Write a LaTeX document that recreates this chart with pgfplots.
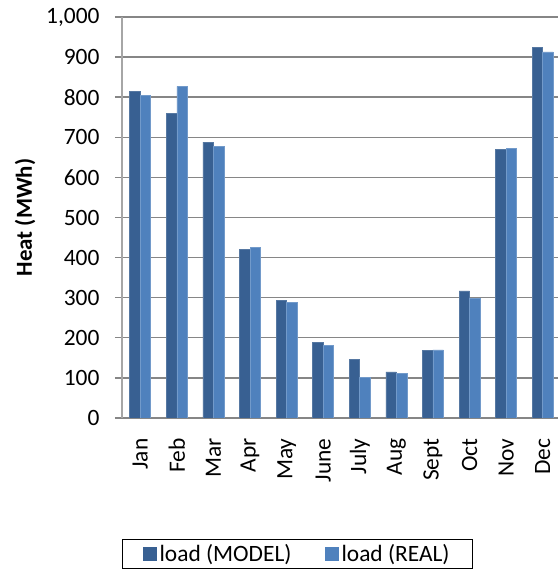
\documentclass[border=0pt]{standalone}
\usepackage{pgfplots}
\pgfplotsset{compat=1.18}
\usepackage{fontspec}
\setmainfont{Carlito}
\definecolor{model}{HTML}{386092}
\definecolor{real}{HTML}{4F81BD}
\definecolor{gridc}{HTML}{868686}
\definecolor{yaxc}{HTML}{A6A6A6}
\begin{document}
\begin{tikzpicture}
\begin{axis}[
  at={(122bp,155bp)}, anchor=south west,
  scale only axis,
  width=439bp, height=401bp,
  ybar=0pt, bar width=10.5bp,
  xmin=-0.5, xmax=11.5,
  ymin=0, ymax=1000,
  xtick={0,...,11},
  xticklabels={Jan,Feb,Mar,Apr,May,June,July,Aug,Sept,Oct,Nov,Dec},
  x tick style={draw=none},
  extra x ticks={-0.5,0.5,...,11.5},
  extra x tick labels={},
  extra x tick style={major tick length=7bp, tick align=outside, tick style={draw=gridc, line width=1.4bp}},
  xticklabel style={rotate=90, anchor=east, font=\fontsize{23.5}{27}\selectfont},
  xticklabel shift=10bp,
  ytick={0,100,...,1000},
  yticklabel style={font=\fontsize{23.5}{27}\selectfont},
  yticklabel shift=12bp,
  /pgf/number format/assume math mode=true,
  /pgf/number format/1000 sep={,},
  y tick style={draw=gridc, line width=1.4bp},
  major tick length=7bp,
  tick align=outside,
  ymajorgrids,
  grid style={draw=gridc, line width=1.4bp},
  axis x line*=bottom,
  axis y line*=left,
  x axis line style={draw=gridc, line width=1.4bp},
  y axis line style={draw=yaxc, line width=1.4bp},
  ylabel={Heat (MWh)},
  ylabel style={font=\fontsize{23}{26}\selectfont\bfseries, at={(axis description cs:-0.221,0.5)}, anchor=center},
  legend columns=2,
  legend style={at={(axis description cs:0.4,-0.339)}, anchor=center, draw=black, line width=1.2bp,
    font=\fontsize{23.5}{27}\selectfont, inner xsep=20bp, inner ysep=2bp,
    /tikz/every even column/.append style={column sep=30bp},
    nodes={inner sep=3bp}},
  legend image code/.code={\fill[#1,draw=none] (0bp,-7bp) rectangle (14bp,7bp);},
]
\addplot[fill=model, draw=model!85!white, line width=0.6bp] coordinates {
(0,815) (1,760) (2,688) (3,421) (4,294) (5,188) (6,146) (7,115) (8,168) (9,317) (10,670) (11,925)};
\addplot[fill=real, draw=real!80!white, line width=0.6bp] coordinates {
(0,804) (1,827) (2,678) (3,426) (4,289) (5,181) (6,101) (7,111) (8,170) (9,298) (10,672) (11,913)};
\legend{load (MODEL),load (REAL)}
\end{axis}
\pgfresetboundingbox
\path (0,0) rectangle (558bp,573bp);
\end{tikzpicture}
\end{document}
